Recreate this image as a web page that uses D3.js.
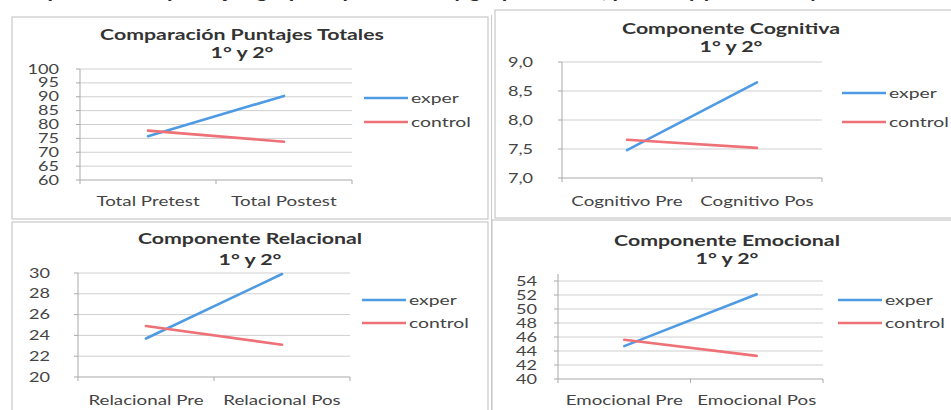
<!DOCTYPE html>
<html>
<head>
<meta charset="utf-8">
<script src="https://cdn.jsdelivr.net/npm/d3@7"></script>
<style>
  html, body { margin: 0; padding: 0; background: #ffffff; }
  svg { display: block; }
  text { font-family: Lato, "Open Sans", sans-serif; }
</style>
</head>
<body>
<svg id="chart" width="951" height="410"></svg>
<script>
// ---- data ----
const seriesNames = ["exper", "control"];

const totalCategories = ["Total Pretest", "Total Postest"];
const totalExper = [75.8, 90.3];
const totalControl = [77.8, 73.8];
const totalTicks = [60, 65, 70, 75, 80, 85, 90, 95, 100];

const cognCategories = ["Cognitivo Pre", "Cognitivo Pos"];
const cognExper = [7.48, 8.65];
const cognControl = [7.66, 7.52];
const cognTicks = [7.0, 7.5, 8.0, 8.5, 9.0];

const relCategories = ["Relacional Pre", "Relacional Pos"];
const relExper = [23.7, 29.9];
const relControl = [24.9, 23.1];
const relTicks = [20, 22, 24, 26, 28, 30];

const emoCategories = ["Emocional Pre", "Emocional Pos"];
const emoExper = [44.7, 52.1];
const emoControl = [45.6, 43.3];
const emoTicks = [40, 42, 44, 46, 48, 50, 52, 54];

const titles = [
  ["Comparación Puntajes Totales", "1° y 2°"],
  ["Componente Cognitiva", "1° y 2°"],
  ["Componente Relacional", "1° y 2°"],
  ["Componente Emocional", "1° y 2°"]
];

const heading = "Comparación de puntajes grupo experimental y grupo control, pretest y postest 1° y 2°";

// ---- styling ----
const colors = { exper: "#4f9be3", control: "#ee7177" };

const svg = d3.select("#chart");

// heading line running above the panels, mostly above the top edge
svg.append("text")
  .attr("transform", `translate(2,-2) scale(1.3,1)`)
  .attr("font-size", 17).attr("font-weight", 700).attr("fill", "#2a2a2a")
  .text(heading);

// panel frames
const frames = [
  [12, 17, 488, 219],
  [495, 10, 960, 218],
  [12, 222, 488, 420],
  [492, 220, 960, 420]
];
svg.append("g").selectAll("rect").data(frames).join("rect")
  .attr("x", d => d[0]).attr("y", d => d[1])
  .attr("width", d => d[2] - d[0]).attr("height", d => d[3] - d[1])
  .attr("fill", "#ffffff").attr("stroke", "#c9c9c9").attr("stroke-width", 1.2);
svg.append("line").attr("x1", 491.5).attr("x2", 491.5).attr("y1", 15).attr("y2", 410)
  .attr("stroke", "#c9c9c9");

function stretchedText(g, x, y, str, opts) {
  return g.append("text")
    .attr("transform", `translate(${x},${y}) scale(${opts.sx},1)`)
    .attr("text-anchor", opts.anchor || "start")
    .attr("font-size", opts.size)
    .attr("font-weight", opts.weight || 400)
    .attr("fill", opts.fill || "#444444")
    .text(str);
}

function drawPanel(cfg) {
  const g = svg.append("g");
  const x = d3.scaleBand().domain(cfg.categories).range([cfg.left, cfg.right]);
  const y = d3.scaleLinear().domain(cfg.domain).range([cfg.bottom, cfg.top]);

  // gridlines
  g.append("g").selectAll("line").data(cfg.ticks.filter(t => t !== cfg.domain[0])).join("line")
    .attr("x1", cfg.left).attr("x2", cfg.right)
    .attr("y1", d => y(d)).attr("y2", d => y(d))
    .attr("stroke", "#cfcfcf").attr("stroke-width", 1);

  // axis lines
  g.append("line").attr("x1", cfg.left).attr("x2", cfg.left)
    .attr("y1", cfg.top).attr("y2", cfg.bottom).attr("stroke", "#a9a9a9");
  g.append("line").attr("x1", cfg.left).attr("x2", cfg.right)
    .attr("y1", cfg.bottom).attr("y2", cfg.bottom).attr("stroke", "#a9a9a9");
  // tick marks
  g.append("g").selectAll("line").data(cfg.ticks).join("line")
    .attr("x1", cfg.left - 4).attr("x2", cfg.left)
    .attr("y1", d => y(d)).attr("y2", d => y(d)).attr("stroke", "#a9a9a9");
  const bounds = [cfg.left, cfg.left + x.bandwidth(), cfg.right];
  g.append("g").selectAll("line").data(bounds).join("line")
    .attr("x1", d => d).attr("x2", d => d)
    .attr("y1", cfg.bottom).attr("y2", cfg.bottom + 4).attr("stroke", "#a9a9a9");

  // y tick labels
  cfg.ticks.forEach(t => {
    stretchedText(g, cfg.labelRight, y(t) + 4.6, cfg.fmt(t), { anchor: "end", size: 12.5, sx: 1.45 });
  });
  // category labels
  cfg.categories.forEach(c => {
    stretchedText(g, x(c) + x.bandwidth() / 2, cfg.catY, c, { anchor: "middle", size: 12.5, sx: 1.5 });
  });

  // series lines
  const line = d3.line()
    .x((d, i) => x(cfg.categories[i]) + x.bandwidth() / 2)
    .y(d => y(d));
  [["exper", cfg.exper], ["control", cfg.control]].forEach(([name, vals]) => {
    g.append("path").attr("d", line(vals))
      .attr("fill", "none").attr("stroke", colors[name])
      .attr("stroke-width", 2.6).attr("stroke-linecap", "round");
  });

  // title
  stretchedText(g, cfg.titleX, cfg.titleY[0], cfg.title[0], { anchor: "middle", size: 15, weight: 700, fill: "#333333", sx: 1.42 });
  stretchedText(g, cfg.titleX, cfg.titleY[1], cfg.title[1], { anchor: "middle", size: 15, weight: 700, fill: "#333333", sx: 1.42 });

  // legend
  seriesNames.forEach((name, i) => {
    const ly = cfg.legendY[i];
    g.append("line").attr("x1", cfg.legendX).attr("x2", cfg.legendX + 44)
      .attr("y1", ly).attr("y2", ly)
      .attr("stroke", colors[name]).attr("stroke-width", 2.6);
    stretchedText(g, cfg.legendX + 47, ly + 4.5, name, { size: 12.5, sx: 1.55 });
  });
}

const fmtInt = d3.format("d");
const fmtComma = v => d3.format(".1f")(v).replace(".", ",");

drawPanel({
  categories: totalCategories, exper: totalExper, control: totalControl,
  ticks: totalTicks, domain: [60, 100], fmt: fmtInt,
  left: 80, right: 352, top: 69, bottom: 180, labelRight: 59, catY: 206,
  title: titles[0], titleX: 242, titleY: [40, 58],
  legendX: 364, legendY: [98, 122]
});
drawPanel({
  categories: cognCategories, exper: cognExper, control: cognControl,
  ticks: cognTicks, domain: [7, 9], fmt: fmtComma,
  left: 562, right: 822, top: 62, bottom: 178, labelRight: 533, catY: 206,
  title: titles[1], titleX: 731, titleY: [34, 52],
  legendX: 842, legendY: [93, 122]
});
drawPanel({
  categories: relCategories, exper: relExper, control: relControl,
  ticks: relTicks, domain: [20, 30], fmt: fmtInt,
  left: 78, right: 350, top: 273, bottom: 377, labelRight: 50, catY: 405,
  title: titles[2], titleX: 250, titleY: [244, 265],
  legendX: 362, legendY: [300, 323]
});
drawPanel({
  categories: emoCategories, exper: emoExper, control: emoControl,
  ticks: emoTicks, domain: [40, 55], fmt: fmtInt,
  left: 558, right: 823, top: 274, bottom: 379, labelRight: 537, catY: 405,
  title: titles[3], titleX: 727, titleY: [246, 264],
  legendX: 838, legendY: [300, 323]
});
</script>
</body>
</html>
